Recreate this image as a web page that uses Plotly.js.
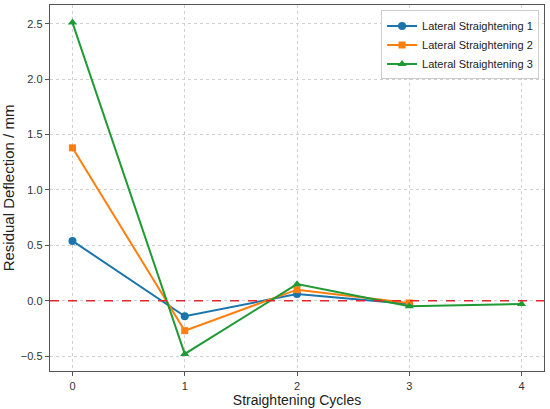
<!DOCTYPE html>
<html>
<head>
<meta charset="utf-8">
<script src="https://cdn.plot.ly/plotly-3.0.1.min.js"></script>
<style>html,body{margin:0;padding:0;background:#fff;}#chart{width:550px;height:409px;}</style>
</head>
<body>
<div id="chart"></div>
<script>
const cycles1 = [0, 1, 2, 3];
const values1 = [0.54, -0.14, 0.06, -0.03];
const cycles2 = [0, 1, 2, 3];
const values2 = [1.38, -0.27, 0.10, -0.02];
const cycles3 = [0, 1, 2, 3, 4];
const values3 = [2.51, -0.48, 0.15, -0.05, -0.03];
const seriesNames = ["Lateral Straightening 1", "Lateral Straightening 2", "Lateral Straightening 3"];
const xTicks = [0, 1, 2, 3, 4];
const yTicks = [-0.5, 0.0, 0.5, 1.0, 1.5, 2.0, 2.5];
const yTickLabels = ["\u22120.5", "0.0", "0.5", "1.0", "1.5", "2.0", "2.5"];

const traces = [
  {x: cycles1, y: values1, name: seriesNames[0], mode: "lines+markers",
   line: {color: "#1b75ad", width: 2}, marker: {symbol: "circle", size: 8, color: "#1b75ad"}},
  {x: cycles2, y: values2, name: seriesNames[1], mode: "lines+markers",
   line: {color: "#ff7f0e", width: 2}, marker: {symbol: "square", size: 7, color: "#ff7f0e"}},
  {x: cycles3, y: values3, name: seriesNames[2], mode: "lines+markers",
   line: {color: "#1f9a35", width: 2}, marker: {symbol: "triangle-up", size: 8, color: "#1f9a35"}}
];

const layout = {
  width: 550, height: 409,
  margin: {l: 50, r: 6, t: 5, b: 38},
  paper_bgcolor: "#fff", plot_bgcolor: "#fff",
  font: {family: "Liberation Sans, Arial, sans-serif", color: "#222"},
  showlegend: true,
  legend: {x: 0.99, y: 0.985, xanchor: "right", yanchor: "top",
    bgcolor: "rgba(255,255,255,0.9)", bordercolor: "#ccc", borderwidth: 1,
    font: {size: 11, color: "#222"}, tracegroupgap: 0},
  xaxis: {
    range: [-0.2, 4.2], tickvals: xTicks, ticktext: xTicks.map(String),
    showgrid: true, gridcolor: "#d0d0d0", griddash: "dot", gridwidth: 1,
    zeroline: false, showline: true, mirror: true, linecolor: "#555", linewidth: 1.3,
    ticks: "outside", ticklen: 4, tickcolor: "#555", tickfont: {size: 11, color: "#333"},
    title: {text: "Straightening Cycles", font: {size: 14, color: "#222"}, standoff: 4}
  },
  yaxis: {
    range: [-0.634, 2.669], tickvals: yTicks, ticktext: yTickLabels,
    showgrid: true, gridcolor: "#d0d0d0", griddash: "dot", gridwidth: 1,
    zeroline: false, showline: true, mirror: true, linecolor: "#555", linewidth: 1.3,
    ticks: "outside", ticklen: 4, tickcolor: "#555", tickfont: {size: 11, color: "#333"},
    title: {text: "Residual Deflection / mm", font: {size: 15, color: "#222"}, standoff: 8}
  },
  shapes: [{type: "line", xref: "paper", x0: 0, x1: 1, yref: "y", y0: 0, y1: 0,
    line: {color: "#e8262a", width: 1.5, dash: "dash"}, layer: "above"}]
};

Plotly.newPlot("chart", traces, layout, {displayModeBar: false, staticPlot: true});
</script>
</body>
</html>
